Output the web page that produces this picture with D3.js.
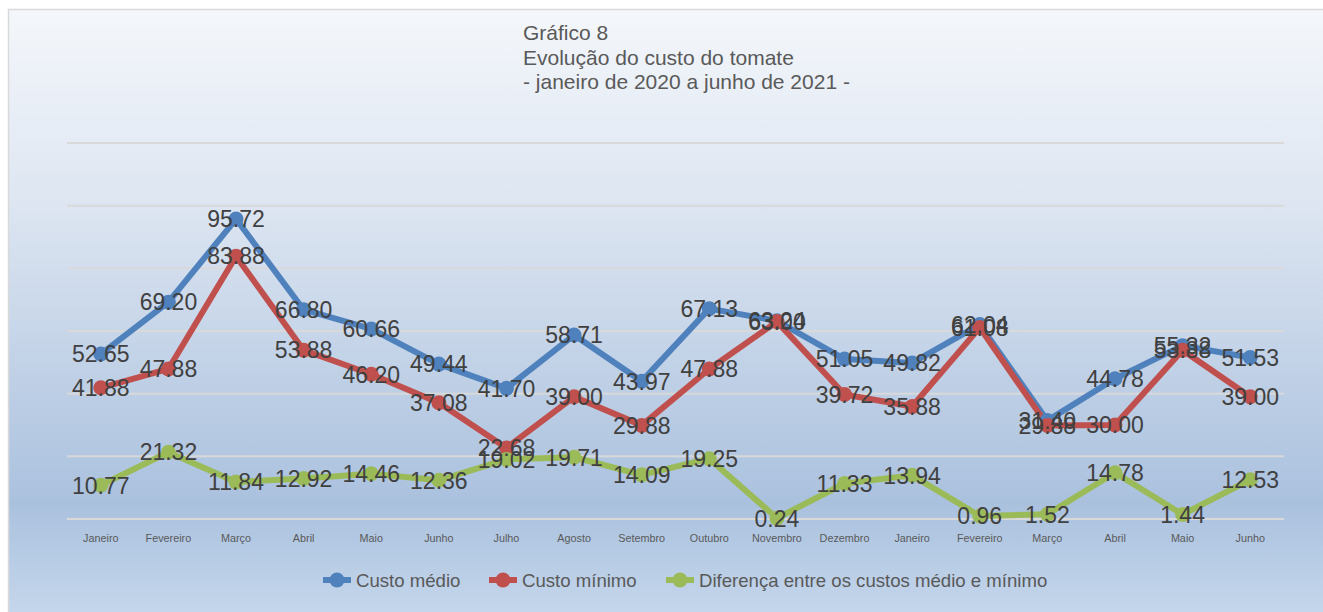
<!DOCTYPE html>
<html>
<head>
<meta charset="utf-8">
<script src="https://cdn.jsdelivr.net/npm/d3@7"></script>
<style>
  body { margin: 0; background: #ffffff; }
  svg { display: block; font-family: "Liberation Sans", Arial, sans-serif; }
</style>
</head>
<body>
<div id="chart"></div>
<script>
// data
const months = ["Janeiro", "Fevereiro", "Março", "Abril", "Maio", "Junho", "Julho", "Agosto", "Setembro",
                "Outubro", "Novembro", "Dezembro", "Janeiro", "Fevereiro", "Março", "Abril", "Maio", "Junho"]
const custoMedio = [52.65, 69.20, 95.72, 66.80, 60.66, 49.44, 41.70, 58.71, 43.97,
                    67.13, 63.24, 51.05, 49.82, 62.04, 31.40, 44.78, 55.32, 51.53]
const custoMinimo = [41.88, 47.88, 83.88, 53.88, 46.20, 37.08, 22.68, 39.00, 29.88,
                     47.88, 63.00, 39.72, 35.88, 61.08, 29.88, 30.00, 53.88, 39.00]
const diferenca = [10.77, 21.32, 11.84, 12.92, 14.46, 12.36, 19.02, 19.71, 14.09,
                   19.25, 0.24, 11.33, 13.94, 0.96, 1.52, 14.78, 1.44, 12.53]
const seriesNames = ["Custo médio", "Custo mínimo", "Diferença entre os custos médio e mínimo"]
const yTicks = [0, 20, 40, 60, 80, 100, 120]
const titleLines = ["Gráfico 8", "Evolução do custo do tomate", "- janeiro de 2020 a junho de 2021 -"]

const W = 1323, H = 612
const plot = {left: 67, right: 1284, top: 143, bottom: 519}
const colors = ["#4f81bd", "#c0504d", "#9bbb59"]

const series = [custoMedio, custoMinimo, diferenca].map((vals, i) => ({
  name: seriesNames[i],
  color: colors[i],
  values: vals.map((v, j) => ({idx: j, value: v}))
}))

const svg = d3.select("#chart").append("svg")
  .attr("width", W)
  .attr("height", H)

// background gradient
const grad = svg.append("defs").append("linearGradient")
  .attr("id", "bg")
  .attr("gradientUnits", "userSpaceOnUse")
  .attr("x1", 0).attr("y1", 9).attr("x2", 0).attr("y2", 612)
grad.append("stop").attr("offset", 0).attr("stop-color", "#f4f7fb")
grad.append("stop").attr("offset", 0.3).attr("stop-color", "#dfe7f2")
grad.append("stop").attr("offset", 0.82).attr("stop-color", "#aac1de")
grad.append("stop").attr("offset", 1).attr("stop-color", "#c4d6eb")

svg.append("rect")
  .attr("x", 8.5).attr("y", 9.5)
  .attr("width", 1340).attr("height", 640)
  .attr("fill", "url(#bg)")
  .attr("stroke", "#d9d9d9")
  .attr("stroke-width", 1.5)

// scales
const x = d3.scaleBand()
  .domain(d3.range(months.length))
  .range([plot.left, plot.right])
const y = d3.scaleLinear()
  .domain([0, 120])
  .range([plot.bottom, plot.top])

// gridlines
svg.append("g")
  .selectAll("line")
  .data(yTicks)
  .join("line")
    .attr("x1", plot.left)
    .attr("x2", plot.right)
    .attr("y1", d => y(d))
    .attr("y2", d => y(d))
    .attr("stroke", "#d9d9d9")
    .attr("stroke-width", 2)

// x axis labels
const xAxis = svg.append("g")
  .attr("transform", `translate(0,${plot.bottom + 7})`)
  .call(d3.axisBottom(x).tickSize(0).tickPadding(8).tickFormat(i => months[i]))
xAxis.select(".domain").remove()
xAxis.selectAll("text")
  .style("font-size", "10.8px")
  .style("font-family", "Liberation Sans, Arial, sans-serif")
  .attr("fill", "#595959")

const cx = i => x(i) + x.bandwidth() / 2

// lines
const line = d3.line()
  .x(d => cx(d.idx))
  .y(d => y(d.value))

svg.selectAll("myLines")
  .data(series)
  .join("path")
    .attr("d", d => line(d.values))
    .attr("stroke", d => d.color)
    .attr("stroke-width", 6)
    .attr("stroke-linejoin", "round")
    .attr("fill", "none")

// markers
svg.selectAll("myDots")
  .data(series)
  .join("g")
    .attr("fill", d => d.color)
  .selectAll("circle")
  .data(d => d.values)
  .join("circle")
    .attr("cx", d => cx(d.idx))
    .attr("cy", d => y(d.value))
    .attr("r", 7.5)

// data labels (centered on the point)
svg.selectAll("myLabels")
  .data(series)
  .join("g")
  .selectAll("text")
  .data(d => d.values)
  .join("text")
    .attr("x", d => cx(d.idx))
    .attr("y", d => y(d.value))
    .attr("dy", "0.36em")
    .attr("text-anchor", "middle")
    .style("font-size", "23px")
    .attr("fill", "#404040")
    .text(d => d.value.toFixed(2))

// title
svg.append("text")
  .attr("x", 523)
  .attr("y", 40)
  .style("font-size", "21px")
  .attr("fill", "#595959")
  .selectAll("tspan")
  .data(titleLines)
  .join("tspan")
    .attr("x", 523)
    .attr("dy", (d, i) => i === 0 ? 0 : 24.5)
    .text(d => d)

// legend
const legendX = [337, 503, 680]
const legend = svg.selectAll("myLegend")
  .data(series)
  .join("g")
    .attr("transform", (d, i) => `translate(${legendX[i]},580)`)
legend.append("line")
  .attr("x1", -14).attr("x2", 14)
  .attr("stroke", d => d.color)
  .attr("stroke-width", 6)
legend.append("circle")
  .attr("r", 7.5)
  .attr("fill", d => d.color)
legend.append("text")
  .attr("x", 19)
  .attr("dy", "0.36em")
  .style("font-size", "18.6px")
  .attr("fill", "#595959")
  .text(d => d.name)
</script>
</body>
</html>
